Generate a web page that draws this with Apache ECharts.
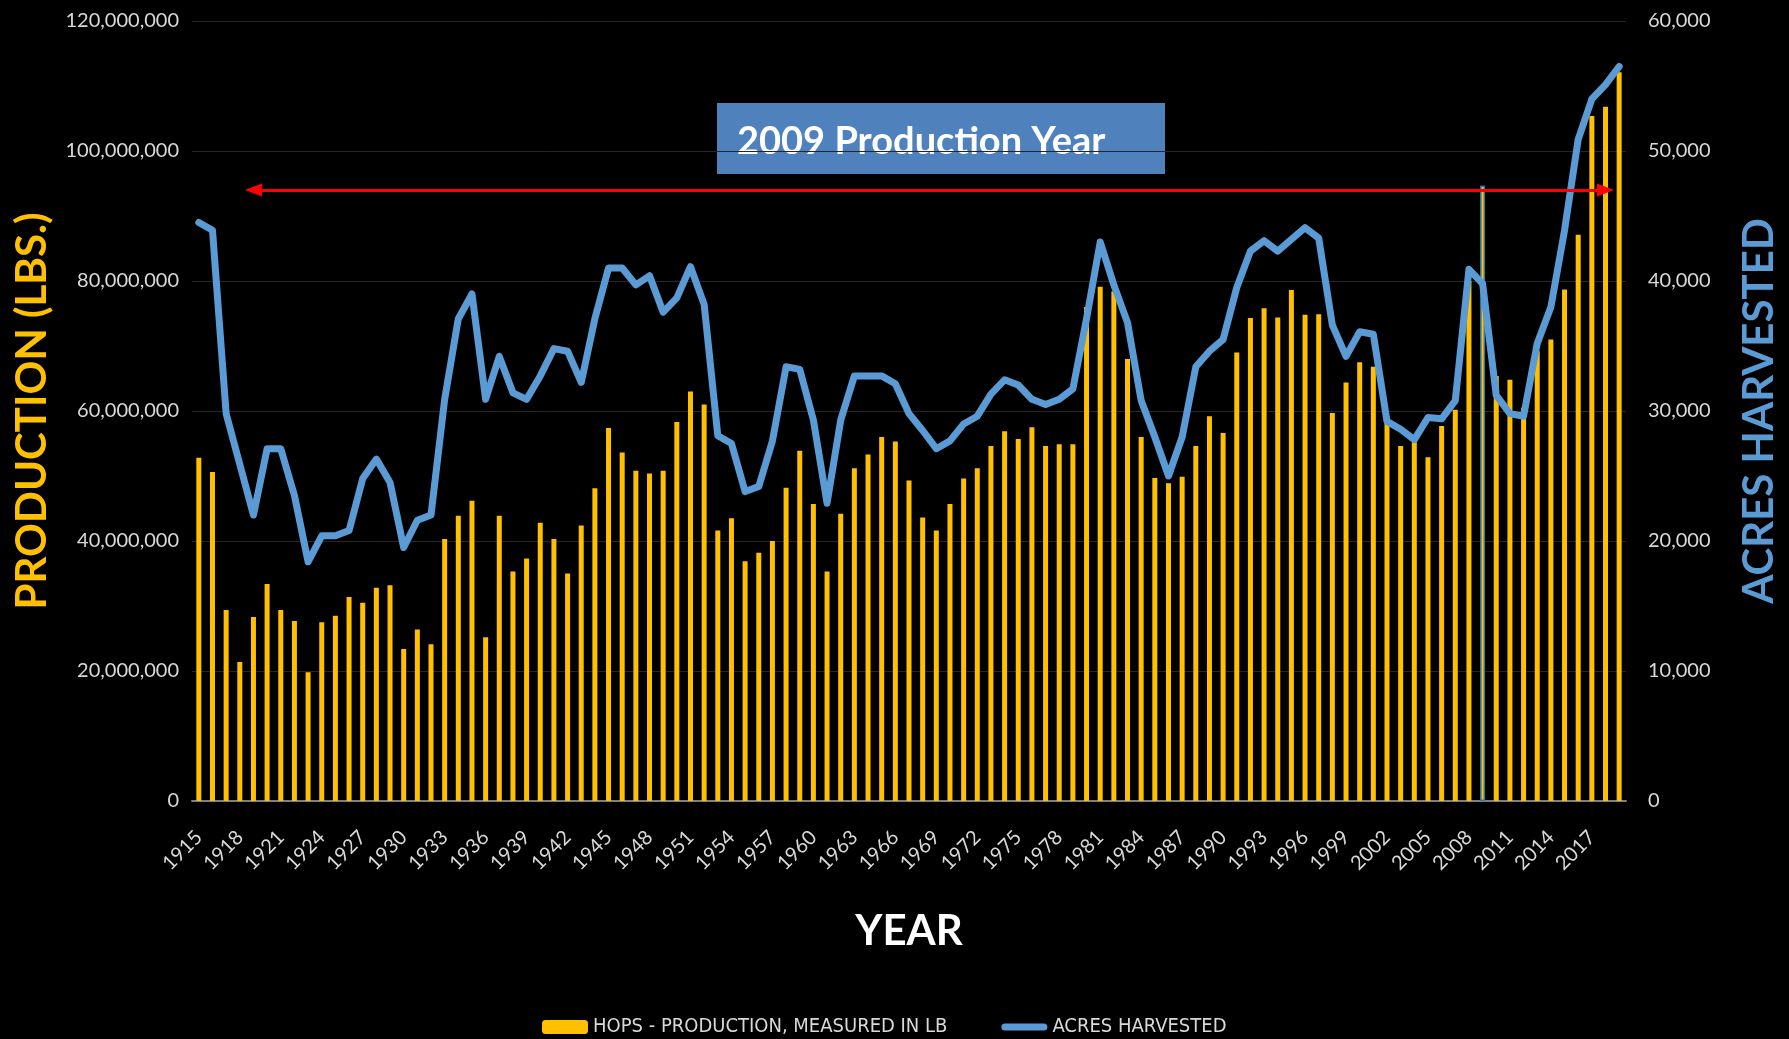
<!DOCTYPE html>
<html>
<head>
<meta charset="utf-8">
<title>Hops production vs acres harvested</title>
<script src="https://cdn.jsdelivr.net/npm/echarts@6/dist/echarts.min.js"></script>
<style>
    html, body { margin: 0; padding: 0; background: #000; }
    #chart { width: 1789px; height: 1039px; }
</style>
</head>
<body>
<div id="chart"></div>
<script>
// ======================
// DATA
// ======================

const years = [];
for (let y = 1915; y <= 2019; y++) years.push(String(y));

// Hops production, millions of lb
const productionM = [
    52.8, 50.6, 29.4, 21.4, 28.3, 33.4, 29.4, 27.7, 19.8, 27.5,   // 1915-1924
    28.5, 31.4, 30.5, 32.8, 33.2, 23.4, 26.4, 24.1, 40.3, 43.9,   // 1925-1934
    46.2, 25.2, 43.9, 35.3, 37.3, 42.8, 40.3, 35.0, 42.4, 48.1,   // 1935-1944
    57.4, 53.6, 50.8, 50.4, 50.8, 58.3, 63.0, 61.0, 41.6, 43.5,   // 1945-1954
    36.9, 38.2, 40.0, 48.2, 53.9, 45.7, 35.3, 44.2, 51.2, 53.3,   // 1955-1964
    56.0, 55.3, 49.3, 43.6, 41.6, 45.7, 49.6, 51.2, 54.6, 56.9,   // 1965-1974
    55.7, 57.5, 54.6, 54.9, 54.9, 76.0, 79.1, 78.4, 68.0, 56.0,   // 1975-1984
    49.7, 48.9, 49.9, 54.6, 59.2, 56.6, 69.0, 74.3, 75.8, 74.4,   // 1985-1994
    78.6, 74.8, 74.9, 59.7, 64.4, 67.5, 66.8, 58.1, 54.6, 55.2,   // 1995-2004
    52.9, 57.7, 60.2, 80.0, 94.7, 65.4, 64.8, 60.5, 69.2, 71.0,   // 2005-2014
    78.7, 87.1, 105.4, 106.8, 112.1                               // 2015-2019
];

// Acres harvested
const acres = [
    44500, 43900, 29800, 25900, 22000, 27100, 27100, 23500, 18400, 20400,
    20400, 20800, 24800, 26300, 24500, 19500, 21600, 22000, 30900, 37100,
    39000, 30900, 34200, 31400, 30900, 32700, 34800, 34600, 32200, 37100,
    41000, 41000, 39700, 40400, 37600, 38700, 41100, 38200, 28100, 27500,
    23800, 24200, 27700, 33400, 33200, 29300, 22900, 29300, 32700, 32700,
    32700, 32100, 29800, 28500, 27100, 27700, 29000, 29600, 31300, 32400,
    32000, 30900, 30500, 30900, 31700, 37100, 43000, 39700, 36800, 30800,
    28000, 25000, 28000, 33400, 34600, 35500, 39500, 42300, 43100, 42300,
    43200, 44100, 43300, 36600, 34200, 36100, 35900, 29200, 28600, 27800,
    29500, 29400, 30800, 40900, 39800, 31200, 29800, 29600, 35200, 38000,
    43900, 50900, 54000, 55100, 56500
];

const highlightYear = '2009';
const arrowSpan = ['1919', '2018'];
const arrowLevel = 94.0e6;

const seriesNames = ['HOPS - PRODUCTION, MEASURED IN LB', 'ACRES HARVESTED'];

// ======================
// STYLE
// ======================

const YELLOW = '#FFC000';
const BLUE = '#5B9BD5';
const LABEL = '#d9d9d9';
const GRID_LINE = '#262626';
const FONT = 'Lato, "Open Sans", sans-serif';
const NARROW = '"Liberation Sans Narrow", "DejaVu Sans Condensed", Lato, sans-serif';

// thick line icon for the legend (invisible moveTo corners keep the 46x14 box)
const LINE_ICON = 'path://M0,0 M46,14 M3.5,3.5 L42.5,3.5 A3.5,3.5 0 0 1 42.5,10.5 L3.5,10.5 A3.5,3.5 0 0 1 3.5,3.5 Z';

const fmt = v => Number(v).toLocaleString('en-US');

// ======================
// OPTION BUILDER
// ======================

function getChartOption() {
    const barData = productionM.map((v, i) => {
        const value = Math.round(v * 1e6);
        if (years[i] !== highlightYear) return value;
        return { value, itemStyle: { borderColor: '#2E75B6', borderWidth: 1.5 } };
    });

    return {
        backgroundColor: '#000',
        animation: false,
        grid: { left: 192, right: 163, top: 21, bottom: 238 },
        legend: {
            left: 537,
            top: 1012,
            itemWidth: 46,
            itemHeight: 14,
            itemGap: 54,
            textStyle: { color: LABEL, fontSize: 20, fontFamily: NARROW },
            data: [
                { name: seriesNames[0] },
                { name: seriesNames[1], icon: LINE_ICON }
            ]
        },
        xAxis: {
            type: 'category',
            data: years,
            boundaryGap: true,
            name: 'YEAR',
            nameLocation: 'middle',
            nameGap: 109,
            nameTextStyle: { color: '#fff', fontSize: 42, fontWeight: 'bold', fontFamily: FONT },
            axisLine: { lineStyle: { color: '#7f7f7f', width: 2 } },
            axisTick: { show: false },
            axisLabel: {
                interval: 2,
                rotate: 45,
                margin: 33,
                color: LABEL,
                fontSize: 20,
                fontFamily: FONT
            }
        },
        yAxis: [
            {
                type: 'value',
                min: 0,
                max: 120e6,
                interval: 20e6,
                name: 'PRODUCTION (LBS.)',
                nameLocation: 'middle',
                nameRotate: 90,
                nameGap: 139,
                nameTextStyle: { color: YELLOW, fontSize: 42, fontWeight: 'bold', fontFamily: FONT },
                axisLine: { show: false },
                axisTick: { show: false },
                axisLabel: { margin: 13, color: LABEL, fontSize: 20, fontFamily: FONT, formatter: fmt },
                splitLine: { lineStyle: { color: GRID_LINE, width: 1 } }
            },
            {
                type: 'value',
                min: 0,
                max: 60000,
                interval: 10000,
                name: 'ACRES HARVESTED',
                nameLocation: 'middle',
                nameRotate: 90,
                nameGap: 112,
                nameTextStyle: { color: BLUE, fontSize: 42, fontWeight: 'bold', fontFamily: FONT },
                axisLine: { show: false },
                axisTick: { show: false },
                axisLabel: { margin: 22, color: LABEL, fontSize: 20, fontFamily: FONT, formatter: fmt },
                splitLine: { show: false }
            }
        ],
        series: [
            {
                name: seriesNames[0],
                type: 'bar',
                yAxisIndex: 0,
                barWidth: 5,
                itemStyle: { color: YELLOW },
                data: barData,
                markLine: {
                    silent: true,
                    symbol: ['triangle', 'triangle'],
                    symbolSize: [13, 17],
                    label: { show: false },
                    lineStyle: { color: '#FF0000', width: 3, type: 'solid' },
                    data: [[
                        { coord: [arrowSpan[0], arrowLevel] },
                        { coord: [arrowSpan[1], arrowLevel] }
                    ]]
                }
            },
            {
                name: seriesNames[1],
                type: 'line',
                yAxisIndex: 1,
                symbol: 'none',
                smooth: false,
                lineStyle: { color: BLUE, width: 7, cap: 'round', join: 'round' },
                itemStyle: { color: BLUE },
                data: acres,
                z: 3
            }
        ],
        graphic: [
            {
                type: 'group',
                left: 717,
                top: 103,
                children: [
                    {
                        type: 'rect',
                        shape: { x: 0, y: 0, width: 448, height: 71 },
                        style: { fill: '#4F81BD' }
                    },
                    {
                        type: 'text',
                        x: 20,
                        y: 39,
                        style: {
                            text: '2009 Production Year',
                            fill: '#fff',
                            font: 'bold 38px ' + FONT,
                            verticalAlign: 'middle'
                        }
                    }
                ]
            }
        ]
    };
}

// ======================
// INIT
// ======================

const chart = echarts.init(document.getElementById('chart'));
chart.setOption(getChartOption());
</script>
</body>
</html>
